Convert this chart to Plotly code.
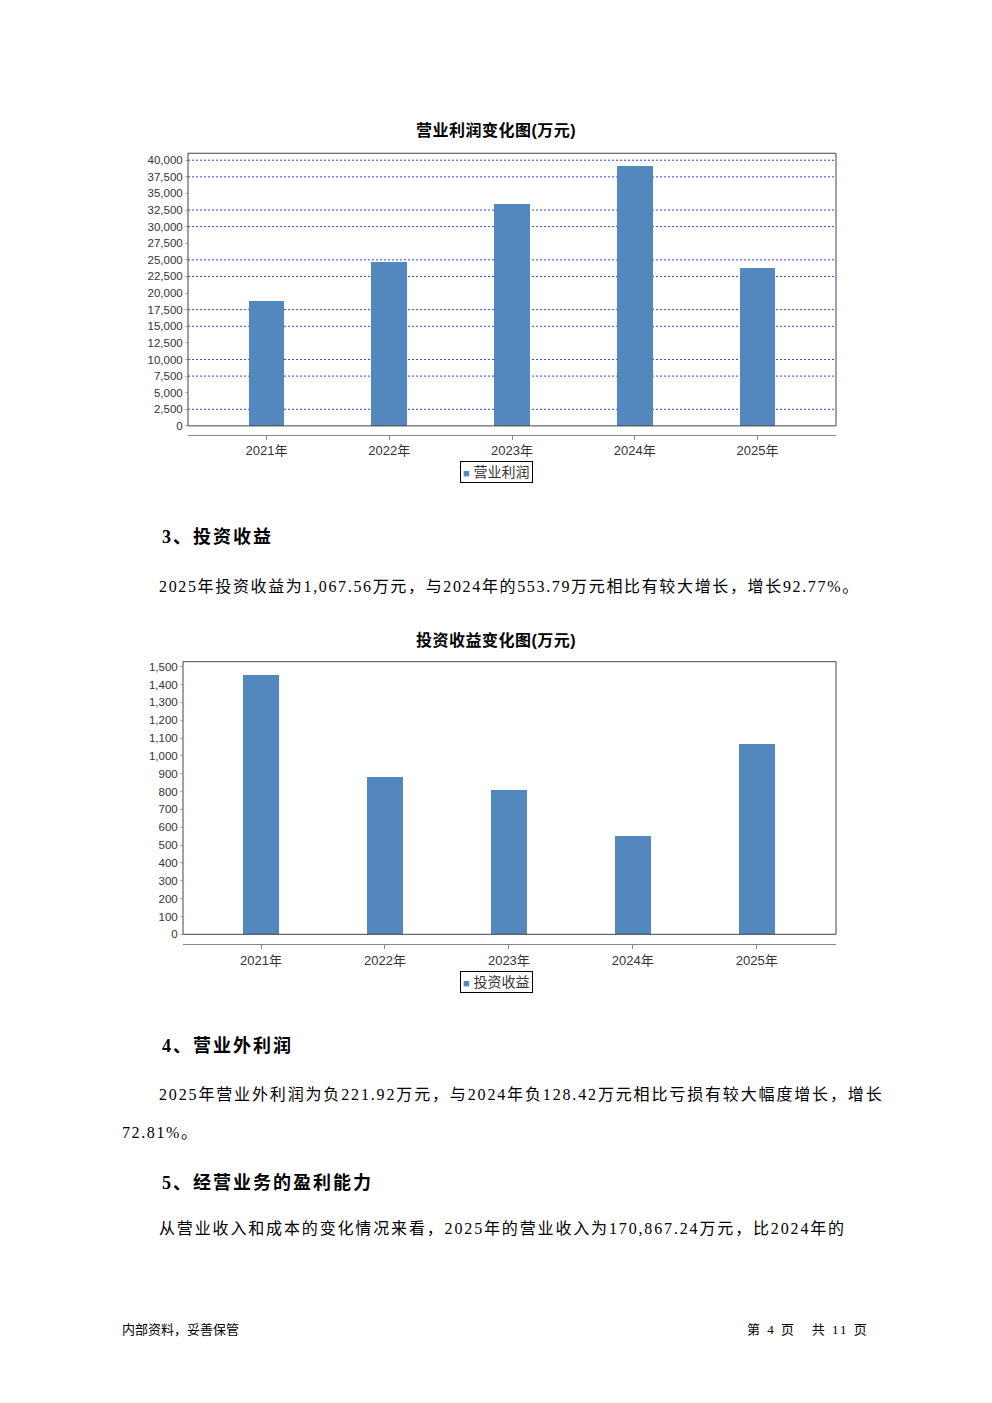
import plotly.graph_objects as go

# page is rendered with an 8px body margin, so the figure is drawn 16px smaller
OFF = 8
W, H = 992 - 2 * OFF, 1403 - 2 * OFF

# ---------------- data ----------------
years = ["2021年", "2022年", "2023年", "2024年", "2025年"]
op_profit = [18700, 24700, 33400, 39100, 23800]          # 营业利润 (万元)
inv_income = [1455, 881, 809, 553.79, 1067.56]          # 投资收益 (万元)
op_grid_values = [40000, 37500, 32500, 30000, 25000, 22500, 17500, 15000, 10000, 7500, 2500]

chart1_title = "营业利润变化图(万元)"
chart2_title = "投资收益变化图(万元)"
series1_name = "营业利润"
series2_name = "投资收益"

BAR = "#5288be"
SANS = "'Liberation Sans', 'Noto Sans CJK SC', sans-serif"
SERIF = "'Liberation Serif', 'Noto Sans CJK SC', serif"


def X(px):
    return (px - OFF) / W


def Y(py):
    return 1 - (py - OFF) / H


fig = go.Figure()
fig.add_trace(go.Bar(x=years, y=op_profit, name=series1_name, marker=dict(color=BAR, line=dict(width=0)),
                     width=0.29, xaxis="x", yaxis="y", showlegend=False))
fig.add_trace(go.Bar(x=years, y=inv_income, name=series2_name, marker=dict(color=BAR, line=dict(width=0)),
                     width=0.29, xaxis="x2", yaxis="y2", showlegend=False))

tickfont = dict(family=SANS, size=11.5, color="#333")
xtickfont = dict(family=SANS, size=13, color="#333")

layout = dict(
    width=W, height=H,
    margin=dict(l=0, r=0, t=0, b=0),
    paper_bgcolor="white", plot_bgcolor="white",
    bargap=0,
    xaxis=dict(domain=[X(188), X(836)], anchor="free", position=Y(436), type="category",
               range=[-0.64, 4.64], showline=True, linecolor="#888", linewidth=1,
               ticks="outside", ticklen=4, tickcolor="#888", tickfont=xtickfont, showgrid=False,
               fixedrange=True),
    yaxis=dict(domain=[Y(427), Y(153)], anchor="free", position=X(188), range=[0, 41050],
               dtick=2500, tickformat=",d", ticks="outside", ticklen=3, tickcolor="#bbb",
               showgrid=False, zeroline=False, showline=False, tickfont=tickfont, fixedrange=True),
    xaxis2=dict(domain=[X(183), X(836)], anchor="free", position=Y(948), type="category",
                range=[-0.63, 4.64], showline=True, linecolor="#888", linewidth=1,
                ticks="outside", ticklen=4, tickcolor="#888", tickfont=xtickfont, showgrid=False,
                fixedrange=True),
    yaxis2=dict(domain=[Y(938), Y(664)], anchor="free", position=X(183), range=[0, 1528],
                dtick=100, tickformat=",d", ticks="outside", ticklen=3, tickcolor="#bbb",
                showgrid=False, zeroline=False, showline=False, tickfont=tickfont, fixedrange=True),
)
fig.update_layout(**layout)

shapes = []
# dotted blue gridlines (chart 1)
for v in op_grid_values:
    shapes.append(dict(type="line", xref="x domain", yref="y", x0=0, x1=1, y0=v, y1=v,
                       line=dict(color="#3c3cff", width=1, dash="2px,2px"), layer="below"))
# plot frames
shapes.append(dict(type="rect", xref="x domain", yref="y domain", x0=0, x1=1, y0=0, y1=1,
                   line=dict(color="#444", width=1)))
shapes.append(dict(type="rect", xref="x2 domain", yref="y2 domain", x0=0, x1=1, y0=0, y1=1,
                   line=dict(color="#444", width=1)))
fig.update_layout(shapes=shapes)


def sp(text, ls):
    return f'<span style="letter-spacing:{ls}px">{text}</span>'


annotations = []


def add_text(text, px, py, size, family, bold=False, anchor="left", ls=0.0, color="#000"):
    t = f"<b>{text}</b>" if bold else text
    if ls:
        t = sp(t, ls)
    annotations.append(dict(text=t, x=X(px), y=Y(py), xref="paper", yref="paper",
                            xanchor=anchor, yanchor="middle", showarrow=False,
                            font=dict(family=family, size=size, color=color)))


def add_legend(name, px, py):
    annotations.append(dict(text=f'<span style="color:{BAR};font-size:11px">■</span> {name}',
                            x=X(px), y=Y(py),
                            xref="paper", yref="paper", xanchor="center", yanchor="middle",
                            showarrow=False, bordercolor="#000", borderwidth=1, borderpad=2,
                            bgcolor="white", font=dict(family=SANS, size=14, color="#333")))


add_text(chart1_title, 496, 130, 16, SANS, bold=True, anchor="center", ls=0.5)
add_text(chart2_title, 496, 642, 16, SANS, bold=True, anchor="center", ls=0.5)
add_legend(series1_name, 496, 473)
add_legend(series2_name, 496, 986)

add_text("3、投资收益", 160, 539, 18, SERIF, bold=True, ls=2)
add_text("2025年投资收益为1,067.56万元，与2024年的553.79万元相比有较大增长，增长92.77%。",
         157, 588, 16, SERIF, ls=1.65)
add_text("4、营业外利润", 160, 1050, 18, SERIF, bold=True, ls=2)
add_text("2025年营业外利润为负221.92万元，与2024年负128.42万元相比亏损有较大幅度增长，增长",
         157, 1099, 16, SERIF, ls=1.85)
add_text("72.81%。", 120, 1137, 16, SERIF, ls=1.6)
add_text("5、经营业务的盈利能力", 160, 1187, 18, SERIF, bold=True, ls=2)
add_text("从营业收入和成本的变化情况来看，2025年的营业收入为170,867.24万元，比2024年的",
         157, 1234, 16, SERIF, ls=1.85)

add_text("内部资料，妥善保管", 120, 1335, 13, SERIF)
add_text("第 4 页&nbsp;&nbsp;&nbsp;共 11 页", 871, 1335, 13, SERIF, anchor="right", ls=2)

fig.update_layout(annotations=annotations)

fig.write_html("out.html")
